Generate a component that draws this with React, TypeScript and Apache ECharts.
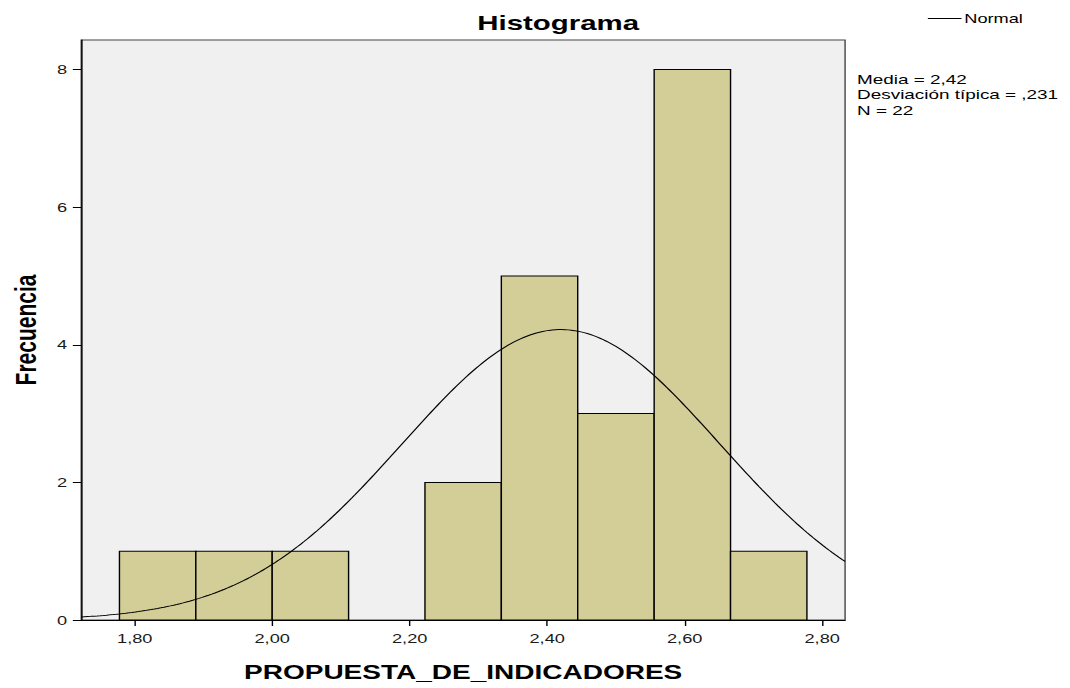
import React, { useEffect, useRef } from "react";
import * as echarts from "echarts";

// ---- data ----
const binEdges = [1.7778, 1.8889, 2.0, 2.1111, 2.2222, 2.3333, 2.4444, 2.5556, 2.6667, 2.7778];
const binCounts = [1, 1, 1, 0, 2, 5, 3, 8, 1];
const xTickValues = [1.8, 2.0, 2.2, 2.4, 2.6, 2.8];
const yTickValues = [0, 2, 4, 6, 8];
const statMean = 2.42;
const statSd = 0.231;
const statN = 22;
const xMin = 1.7222;
const xMax = 2.8333;
const yMax = 8.43;

// the source image is stretched horizontally; reproduce by scaling the canvas
const STRETCH = 1070 / 764;
const FONT = "'Liberation Sans', Arial, Helvetica, sans-serif";

const fmt = (v: number) => v.toFixed(2).replace(".", ",");

export default function App() {
  const ref = useRef<HTMLDivElement>(null);

  useEffect(() => {
    if (!ref.current) return;
    const chart = echarts.init(ref.current, undefined, { renderer: "svg" });

    const histData = binCounts
      .map((c, i) => [binEdges[i], binEdges[i + 1], c])
      .filter((d) => d[2] > 0);

    const binWidth = binEdges[1] - binEdges[0];
    const steps = 240;
    const curve: number[][] = [];
    for (let i = 0; i <= steps; i++) {
      const x = xMin + ((xMax - xMin) * i) / steps;
      const z = (x - statMean) / statSd;
      const y = (statN * binWidth * Math.exp(-0.5 * z * z)) / (statSd * Math.sqrt(2 * Math.PI));
      curve.push([x, y]);
    }

    chart.setOption({
      animation: false,
      backgroundColor: "#ffffff",
      textStyle: { fontFamily: FONT },
      title: {
        text: "Histograma",
        left: 398.5,
        top: 12,
        padding: 0,
        textAlign: "center",
        textStyle: { fontFamily: FONT, fontSize: 21, fontWeight: "bold", color: "#000" },
      },
      legend: {
        data: [{ name: "Normal", icon: "rect" }],
        left: 662.5,
        top: 12,
        padding: 0,
        itemWidth: 24,
        itemHeight: 1,
        textStyle: { fontFamily: FONT, fontSize: 13, color: "#000", padding: [0, 0, 0, -3] },
      },
      grid: {
        left: 56.4,
        right: 160.6,
        top: 40,
        bottom: 68,
        show: true,
        backgroundColor: "#F0F0F0",
        borderColor: "#444",
        borderWidth: 1,
      },
      xAxis: {
        type: "value",
        min: xMin,
        max: xMax,
        name: "PROPUESTA_DE_INDICADORES",
        nameLocation: "middle",
        nameGap: 42,
        nameTextStyle: { fontFamily: FONT, fontSize: 20, fontWeight: "bold", color: "#000" },
        axisLine: { show: true, onZero: false, lineStyle: { color: "#000", width: 1 } },
        axisTick: { show: true, length: 6, customValues: xTickValues, lineStyle: { color: "#000" } },
        axisLabel: {
          customValues: xTickValues,
          formatter: (v: number) => fmt(v),
          fontFamily: FONT,
          fontSize: 13,
          color: "#1a1a1a",
          margin: 12,
        },
        splitLine: { show: false },
      },
      yAxis: {
        type: "value",
        min: 0,
        max: yMax,
        name: "Frecuencia",
        nameLocation: "middle",
        nameGap: 29,
        nameTextStyle: { fontFamily: FONT, fontSize: 21, fontWeight: "bold", color: "#000" },
        axisLine: { show: true, lineStyle: { color: "#000", width: 1 } },
        axisTick: { show: true, length: 6, customValues: yTickValues, lineStyle: { color: "#000" } },
        axisLabel: {
          customValues: yTickValues,
          formatter: (v: number) => String(v),
          fontFamily: FONT,
          fontSize: 13,
          color: "#1a1a1a",
          margin: 10,
        },
        splitLine: { show: false },
      },
      graphic: [
        {
          type: "text",
          left: 612,
          top: 71,
          style: {
            text:
              "Media = " + statMean.toFixed(2).replace(".", ",") + "\n" +
              "Desviación típica = ," + String(Math.round(statSd * 1000)) + "\n" +
              "N = " + statN,
            font: "13.5px " + FONT,
            lineHeight: 15.5,
            fill: "#000",
          },
        },
      ],
      series: [
        {
          type: "custom",
          name: "Histograma",
          data: histData,
          encode: { x: [0, 1], y: 2 },
          renderItem: (params: any, api: any) => {
            const p0 = api.coord([api.value(0), api.value(2)]);
            const p1 = api.coord([api.value(1), 0]);
            return {
              type: "rect",
              shape: { x: p0[0], y: p0[1], width: p1[0] - p0[0], height: p1[1] - p0[1] },
              style: { fill: "#D3CE97", stroke: "#000", lineWidth: 1 },
            };
          },
          z: 2,
        },
        {
          type: "line",
          name: "Normal",
          data: curve,
          showSymbol: false,
          symbol: "none",
          color: "#000",
          lineStyle: { color: "#000", width: 1 },
          z: 3,
        },
      ],
    });

    return () => chart.dispose();
  }, []);

  return (
    <div
      ref={ref}
      style={{
        position: "absolute",
        left: 0,
        top: 0,
        width: 764,
        height: 688,
        transform: `scaleX(${STRETCH})`,
        transformOrigin: "0 0",
      }}
    />
  );
}
